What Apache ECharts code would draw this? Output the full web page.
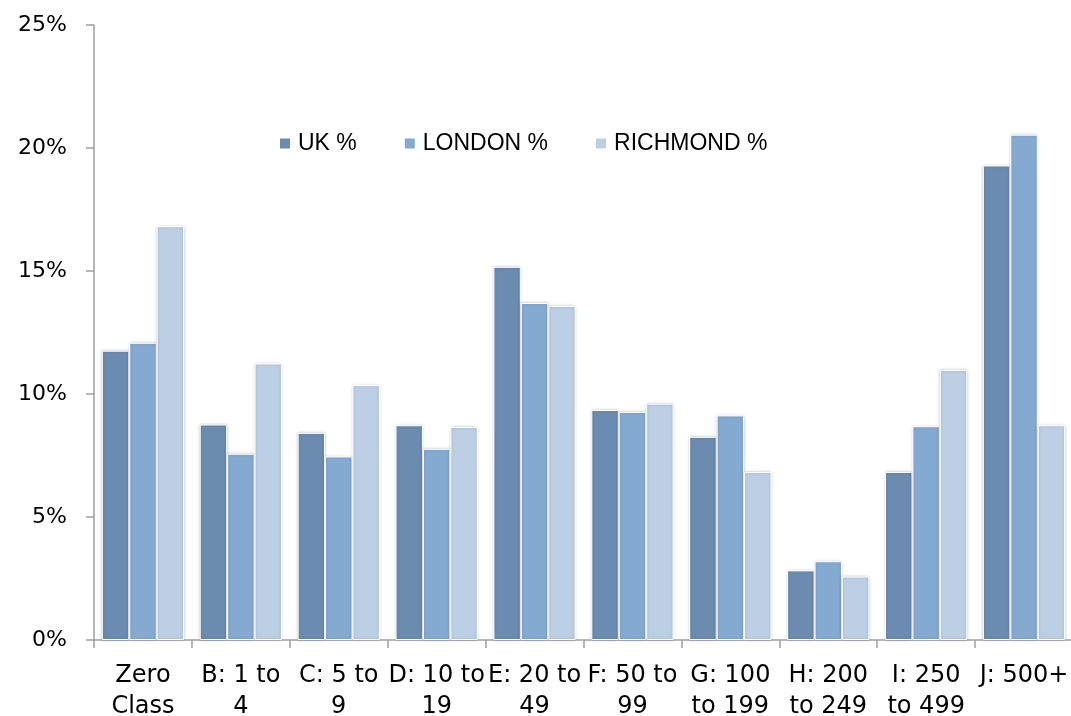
<!DOCTYPE html>
<html>
<head>
<meta charset="utf-8">
<script src="https://cdn.jsdelivr.net/npm/echarts@6/dist/echarts.min.js"></script>
<style>
html,body{margin:0;padding:0;background:#fff;}
#chart{width:1071px;height:716px;}
</style>
</head>
<body>
<div id="chart"></div>
<script>
const categories = ["Zero\nClass", "B: 1 to\n4", "C: 5 to\n9", "D: 10 to\n19", "E: 20 to\n49", "F: 50 to\n99", "G: 100\nto 199", "H: 200\nto 249", "I: 250\nto 499", "J: 500+"];
const ukValues = [11.76, 8.76, 8.42, 8.73, 15.17, 9.35, 8.26, 2.83, 6.83, 19.29];
const londonValues = [12.08, 7.57, 7.46, 7.77, 13.70, 9.27, 9.13, 3.20, 8.69, 20.54];
const richmondValues = [16.82, 11.24, 10.36, 8.66, 13.58, 9.61, 6.83, 2.58, 10.98, 8.73];
const seriesNames = ["UK %", "LONDON %", "RICHMOND %"];
const colors = ["#6B8CB0", "#85AAD2", "#BCCFE5"];

const chart = echarts.init(document.getElementById('chart'), null, {renderer: 'canvas'});
const axisFont = "'DejaVu Sans', Verdana, sans-serif";
const legendFont = "'Liberation Sans', Arial, sans-serif";
function mk(name, data, color) {
  return {
    name: name,
    type: 'bar',
    data: data,
    barGap: '0%',
    barCategoryGap: '16%',
    itemStyle: {
      color: color,
      borderColor: '#ffffff',
      borderWidth: 1,
      shadowBlur: 3,
      shadowColor: 'rgba(0,0,0,0.2)'
    },
    emphasis: {disabled: true}
  };
}
chart.setOption({
  animation: false,
  color: colors,
  legend: {
    left: 278,
    top: 132,
    padding: 0,
    itemWidth: 12,
    itemHeight: 12,
    itemGap: 46,
    icon: 'rect',
    textStyle: {fontFamily: legendFont, fontSize: 23, color: '#000', padding: [0,0,0,2]},
    data: seriesNames
  },
  grid: {left: 94, right: -2, top: 25, bottom: 76, containLabel: false, outerBoundsMode: 'none'},
  xAxis: {
    type: 'category',
    data: categories,
    axisLine: {lineStyle: {color: '#a0a0a0', width: 1.5}},
    axisTick: {show: true, length: 8, lineStyle: {color: '#a0a0a0', width: 1.5}},
    axisLabel: {interval: 0, margin: 20, fontFamily: axisFont, fontSize: 24, color: '#000', lineHeight: 31}
  },
  yAxis: {
    type: 'value',
    min: 0,
    max: 25,
    interval: 5,
    splitLine: {show: false},
    axisLine: {show: true, lineStyle: {color: '#a0a0a0', width: 1.5}},
    axisTick: {show: true, length: 8, lineStyle: {color: '#a0a0a0', width: 1.5}},
    axisLabel: {formatter: '{value}%', margin: 27, fontFamily: axisFont, fontSize: 22, color: '#000'}
  },
  series: [
    mk(seriesNames[0], ukValues, colors[0]),
    mk(seriesNames[1], londonValues, colors[1]),
    mk(seriesNames[2], richmondValues, colors[2])
  ]
});
</script>
</body>
</html>
